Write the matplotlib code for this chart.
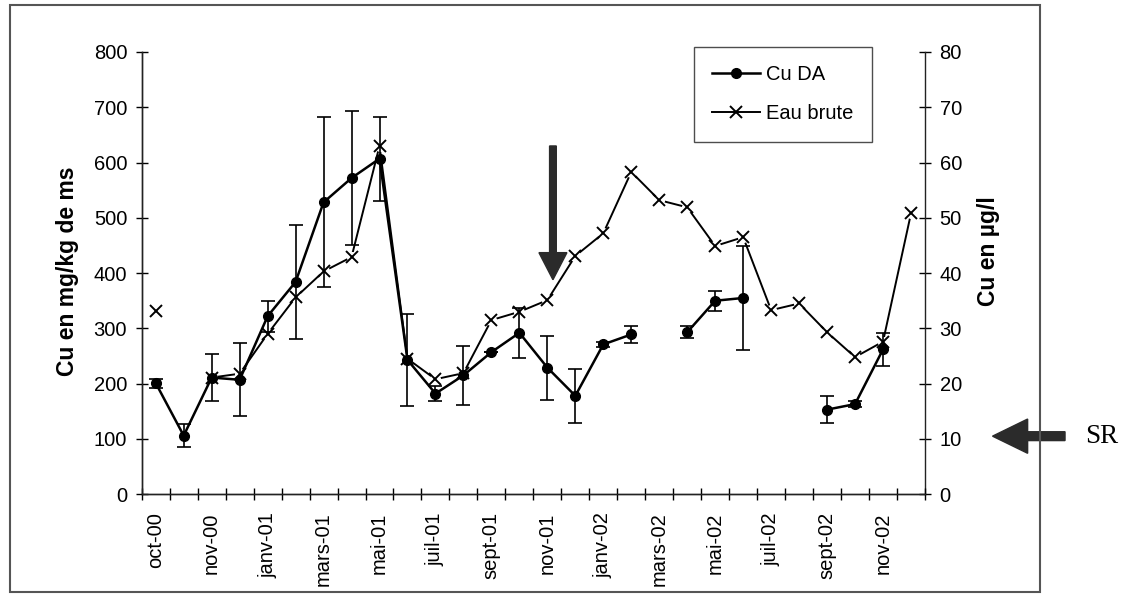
import numpy as np
import matplotlib
matplotlib.use("Agg")
import matplotlib.pyplot as plt
from matplotlib.lines import Line2D
from matplotlib.patches import FancyArrow, Rectangle
from matplotlib.transforms import blended_transform_factory

plt.rcParams["font.family"] = ["Liberation Sans", "DejaVu Sans"]

# =========================
# DATA
# =========================
n_months = 28
month_labels = ["oct-00", "nov-00", "janv-01", "mars-01", "mai-01", "juil-01",
                "sept-01", "nov-01", "janv-02", "mars-02", "mai-02", "juil-02",
                "sept-02", "nov-02"]

nan = np.nan
# Cu DA (mg/kg de ms) with standard deviation
cu_da = [201, 106, 211, 207, 322, 384, 528, 572, 607, 243, 182, 215, 257, 292,
         229, 178, 271, 289, nan, 293, 350, 355, nan, nan, 153, 163, 262, nan]
cu_da_err = [8, 21, 43, 66, 28, 103, 154, 122, 76, 83, 14, 53, 0, 45,
             58, 49, 5, 16, 0, 11, 18, 94, 0, 0, 24, 5, 30, 0]
# Eau brute (µg/l)
eau_brute = [33.1, nan, 21.1, 21.8, 29.0, 35.6, 40.3, 42.9, 63.0, 24.5, 20.8,
             21.9, 31.5, 33.0, 35.1, 43.1, 47.2, 58.3, 53.2, 51.9, 44.9, 46.5,
             33.3, 34.5, 29.3, 24.8, 27.6, 50.8]

x = np.arange(n_months)

# =========================
# FIGURE
# =========================
fig = plt.figure(figsize=(11.33, 5.97), dpi=100)
ax = fig.add_axes([0.1251, 0.1722, 0.6913, 0.7407])
ax2 = ax.twinx()
ax.set_zorder(ax2.get_zorder() + 1)
ax.patch.set_visible(False)

# Eau brute on the right axis, line broken around each marker
ax2.plot(x, eau_brute, color="black", lw=1.4, zorder=2)
ax2.plot(x, eau_brute, ls="none", marker="o", ms=8, mfc="white", mec="none", zorder=3)
ax2.plot(x, eau_brute, ls="none", marker="x", ms=8.5, mew=1.4, color="black", zorder=4)

# Cu DA on the left axis
ax.errorbar(x, cu_da, yerr=cu_da_err, fmt="none", ecolor="black",
            elinewidth=1.2, capsize=5, capthick=1.2, zorder=3)
ax.plot(x, cu_da, color="black", lw=1.8, marker="o", ms=7, zorder=4)

# axes
ax.set_xlim(-0.5, n_months - 0.5)
ax.set_ylim(0, 800)
ax2.set_ylim(0, 80)
ax.set_yticks(np.arange(0, 801, 100))
ax2.set_yticks(np.arange(0, 81, 10))

ax.set_xticks(x[::2])
ax.set_xticklabels(month_labels, rotation=90, fontsize=14.5)
ax.set_xticks(np.arange(n_months + 1) - 0.5, minor=True)
ax.tick_params(axis="x", which="major", length=0, pad=13)
ax.tick_params(axis="x", which="minor", direction="inout", length=9, width=1)
ax.tick_params(axis="y", direction="inout", length=9, width=1, labelsize=14.5, pad=6)
ax2.tick_params(axis="y", direction="inout", length=9, width=1, labelsize=14.5, pad=6)

for a in (ax, ax2):
    a.spines["top"].set_visible(False)
    for s in ("left", "right", "bottom"):
        a.spines[s].set_linewidth(1.0)
        a.spines[s].set_color("#222222")
ax.spines["right"].set_visible(False)

ax.set_ylabel("Cu en mg/kg de ms", fontsize=16.5, fontweight="bold")
ax.yaxis.set_label_coords(-0.080, 0.505)
ax2.set_ylabel("Cu en µg/l", fontsize=16.5, fontweight="bold")
ax2.yaxis.set_label_coords(1.066, 0.55)

# legend
handles = [
    Line2D([], [], color="black", lw=1.8, marker="o", ms=7),
    Line2D([], [], color="black", lw=1.4, marker="x", ms=8.5, mew=1.4),
]
leg = ax.legend(handles, ["Cu DA", "Eau brute"], loc="upper right",
                bbox_to_anchor=(0.932, 1.011), borderaxespad=0, fontsize=14.5,
                frameon=True, fancybox=False, handlelength=2.4, labelspacing=1.0,
                borderpad=0.9, handletextpad=0.3)
leg.get_frame().set_edgecolor("#222222")
leg.get_frame().set_linewidth(1.0)

# arrow pointing at nov-01
ax.add_patch(FancyArrow(14.2, 630, 0, 388 - 630, width=0.24, head_width=1.0,
                        head_length=49, length_includes_head=True,
                        color="#2b2b2b", zorder=5))

# SR arrow next to the right axis
sr_trans = blended_transform_factory(fig.transFigure, ax2.transData)
fig.add_artist(FancyArrow(0.940, 10.5, -0.064, 0, width=1.6, head_width=6.2,
                          head_length=0.031, length_includes_head=True,
                          color="#2b2b2b", transform=sr_trans, clip_on=False))
fig.text(0.958, 10.5, "SR", transform=sr_trans, va="center", ha="left",
         fontsize=19.5, family="Liberation Serif")

# outer frame
fig.add_artist(Rectangle((0.0088, 0.0084), 0.909, 0.983, transform=fig.transFigure,
                         fill=False, ec="#555555", lw=1.5))

fig.savefig("out.png", dpi=100)
